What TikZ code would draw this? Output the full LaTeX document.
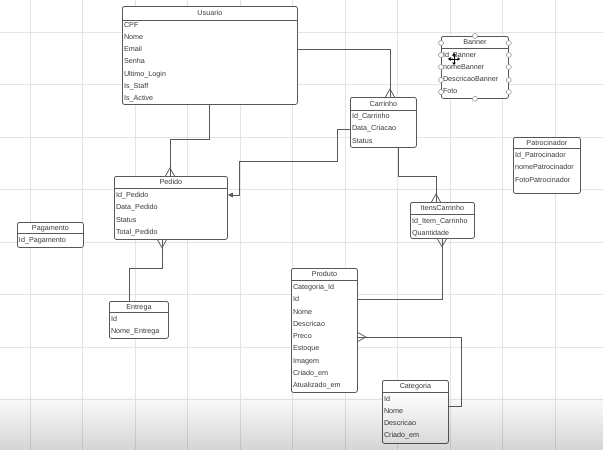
\documentclass[tikz,border=0pt]{standalone}
\usepackage{fontspec}
\setmainfont{Liberation Sans}
\usetikzlibrary{calc,arrows.meta}

\definecolor{ink}{HTML}{3A3A3A}
\definecolor{frame}{HTML}{585858}
\definecolor{gridc}{HTML}{E4E4E4}

\tikzset{
  tbl/.style={draw=frame, line width=0.8pt, rounded corners=2pt, fill=white,
    inner sep=0pt, anchor=north west},
  tblline/.style={draw=frame, line width=0.8pt},
  fieldtxt/.style={font=\fontsize{7.2}{8}\selectfont, text=ink, anchor=base west, inner sep=0pt},
  titletxt/.style={font=\fontsize{7.2}{8}\selectfont, text=ink, anchor=base, inner sep=0pt},
  rel/.style={draw=frame, line width=0.75pt},
  handle/.style={draw=frame!70, fill=white, line width=0.5pt, circle, inner sep=0pt, minimum size=5pt},
  gridline/.style={draw=gridc, line width=0.6pt},
}

% entity table: name, x, y, width, height, header height, first row centre, title, fields
\newcommand\ertable[9]{%
  \node[tbl, minimum width=#4pt, minimum height=#5pt] (#1) at (#2,#3) {};
  \draw[tblline] ($(#1.north west)+(0,#6)$) -- ($(#1.north east)+(0,#6)$);
  \node[titletxt] (#1-title) at ($(#1.north)+(0,#6/2+2.6)$) {#8};
  \foreach \txt [count=\i] in {#9} {
    \node[fieldtxt] (#1-\i) at ($(#1.north west)+(1.8,#7+12.25*\i-12.25+2.6)$) {\txt};
  }
}

% crow's feet ("many" ends) on a top, bottom or right edge
\newcommand\crowN[1]{\draw[rel] ($(#1)+(-4.5,0)$) -- ($(#1)+(0,-8)$) -- ($(#1)+(4.5,0)$);}
\newcommand\crowS[1]{\draw[rel] ($(#1)+(-4.5,0)$) -- ($(#1)+(0,8)$) -- ($(#1)+(4.5,0)$);}
\newcommand\crowE[1]{\draw[rel] ($(#1)+(0,-4.5)$) -- ($(#1)+(8,0)$) -- ($(#1)+(0,4.5)$);}

\begin{document}
\begin{tikzpicture}[x=1pt,y=-1pt]
\useasboundingbox (0,0) rectangle (603,450);
\fill[white] (0,0) rectangle (603,450);

% canvas grid
\foreach \gx in {30,82.5,...,600} \draw[gridline] (\gx,0) -- (\gx,450);
\foreach \gy in {32,84.5,...,450} \draw[gridline] (0,\gy) -- (603,\gy);

% entities
\ertable{usuario}{122}{6}{175}{98}{14}{18.5}{Usuario}{CPF,Nome,Email,Senha,Ultimo\_Login,Is\_Staff,Is\_Active}
\ertable{carrinho}{350}{97}{66}{50}{13}{19}{Carrinho}{Id\_Carrinho,Data\_Criacao,Status}
\ertable{banner}{441}{36}{67}{62}{12}{18.5}{Banner}{Id\_Banner,nomeBanner,DescricaoBanner,Foto}
\ertable{patrocinador}{513}{137}{67}{56}{11}{18}{Patrocinador}{Id\_Patrocinador,nomePatrocinador,FotoPatrocinador}
\ertable{pedido}{114}{176}{113}{63}{12}{19}{Pedido}{Id\_Pedido,Data\_Pedido,Status,Total\_Pedido}
\ertable{pagamento}{17}{222}{66}{25}{11}{18}{Pagamento}{Id\_Pagamento}
\ertable{itens}{410}{202}{64}{36}{12}{19}{ItensCarrinho}{Id\_Item\_Carrinho,Quantidade}
\ertable{entrega}{109}{301}{59}{37}{11}{18}{Entrega}{Id,Nome\_Entrega}
\ertable{produto}{291}{268}{66}{124}{12}{19}{Produto}{Categoria\_Id,Id,Nome,Descricao,Preco,Estoque,Imagem,Criado\_em,Atualizado\_em}
\ertable{categoria}{382}{380}{66}{63}{12}{18.5}{Categoria}{Id,Nome,Descricao,Criado\_em}

% Usuario -- Carrinho
\coordinate (uC) at ($(usuario.north east)+(0,43)$);
\coordinate (cU) at ($(carrinho.north west)+(40,0)$);
\draw[rel] (uC) -| (cU);
\crowN{cU}

% Usuario -- Pedido
\coordinate (uP) at ($(usuario.south west)+(87,0)$);
\coordinate (pU) at ($(pedido.north west)+(56,0)$);
\draw[rel] (uP) -- ++(0,35) -| (pU);
\crowN{pU}

% Carrinho -> Pedido
\coordinate (cP) at ($(carrinho.north west)+(0,32)$);
\coordinate (pC) at ($(pedido.north east)+(0,19)$);
\draw[rel, -{Triangle[length=5pt,width=4.5pt]}] (cP) -- ++(-13,0) -- ++(0,32) -| ($(pC)+(12,0)$) -- (pC);

% Carrinho -- ItensCarrinho
\coordinate (cI) at ($(carrinho.south west)+(48,0)$);
\coordinate (iC) at ($(itens.north west)+(26,0)$);
\draw[rel] (cI) -- ++(0,29) -| (iC);
\crowN{iC}

% ItensCarrinho -- Produto
\coordinate (iP) at ($(itens.south west)+(32,0)$);
\coordinate (prI) at ($(produto.north east)+(0,31)$);
\draw[rel] (iP) |- (prI);
\crowS{iP}

% Produto -- Categoria
\coordinate (prC) at ($(produto.north east)+(0,69)$);
\coordinate (caP) at ($(categoria.north east)+(0,26)$);
\draw[rel] (prC) -- ++(104,0) |- (caP);
\crowE{prC}

% Pedido -- Entrega
\coordinate (pE) at ($(pedido.south west)+(48,0)$);
\coordinate (eP) at ($(entrega.north west)+(20,0)$);
\draw[rel] (pE) -- ++(0,29) -| (eP);
\crowS{pE}

% selection handles on Banner
\foreach \hy in {7,19,31,44,56} {
  \node[handle] at ($(banner.north west)+(0,\hy)$) {};
  \node[handle] at ($(banner.north east)+(0,\hy)$) {};
}
\node[handle] at (banner.north) {};
\node[handle] at (banner.south) {};

% move cursor
\coordinate (cur) at ($(banner.north west)+(13,23)$);
\foreach \dx/\dy in {0/-6,0/6,-6/0,6/0}
  \draw[black, line width=0.9pt, -{Triangle[length=2.5pt,width=3.6pt]}] (cur) -- ++(\dx,\dy);

% darkening towards the lower edge
\foreach \k in {0,...,57} {
  \pgfmathsetmacro\op{0.0029*\k}
  \fill[black, opacity=\op] (0,392+\k) rectangle (603,393+\k);
}
\end{tikzpicture}
\end{document}
